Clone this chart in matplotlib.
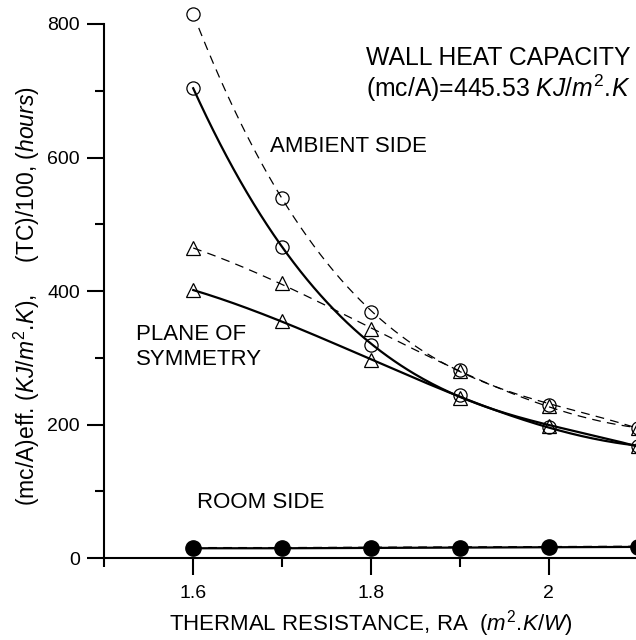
import matplotlib
matplotlib.use('Agg')
import matplotlib.pyplot as plt
import numpy as np

plt.rcParams['font.family'] = ['Liberation Sans', 'DejaVu Sans']
plt.rcParams['mathtext.fontset'] = 'custom'
plt.rcParams['mathtext.rm'] = 'Liberation Sans'
plt.rcParams['mathtext.it'] = 'Liberation Sans:italic'

# thermal resistance RA (m2.K/W)
ra = [1.6, 1.7, 1.8, 1.9, 2.0, 2.1]

# ambient side / plane of symmetry, two quantities each
circ_dashed = [815, 539, 369, 282, 230, 195]
circ_solid = [704, 466, 320, 245, 197, 168]
tri_dashed = [464, 412, 343, 280, 228, 195]
tri_solid = [401, 356, 297, 240, 198, 168]

# room side
room_solid = [15, 15, 15.5, 16, 16.5, 17]
room_dashed = [16, 16, 16.5, 17, 17.5, 18]

fig = plt.figure(figsize=(6.36, 6.40), dpi=100)
ax = fig.add_axes([0.164, 0.1277, 0.8387, 0.8348])

xs = np.linspace(ra[0], ra[-1], 200)


def trend(y, deg=3):
    c = np.polyfit(ra, y, deg)
    return np.polyval(c, xs)


ax.plot(xs, trend(circ_dashed), color='black', lw=0.9, ls=(0, (7, 5)))
ax.plot(xs, trend(tri_dashed), color='black', lw=0.9, ls=(0, (7, 5)))
ax.plot(xs, trend(circ_solid), color='black', lw=1.6)
ax.plot(xs, trend(tri_solid), color='black', lw=1.6)

mk = dict(ls='none', mfc='none', mec='black', mew=0.9, clip_on=False)
ax.plot(ra, circ_dashed, marker='o', ms=9.5, **mk)
ax.plot(ra, circ_solid, marker='o', ms=9.5, **mk)
ax.plot(ra, tri_dashed, marker='^', ms=9.5, **mk)
ax.plot(ra, tri_solid, marker='^', ms=9.5, **mk)

ax.plot(ra, room_dashed, color='black', lw=0.9, ls=(0, (7, 5)))
ax.plot(ra, room_solid, color='black', lw=1.6, marker='o', ms=11,
        mfc='black', mec='black', clip_on=False)

ax.set_xlim(1.5, 2.1)
ax.set_ylim(0, 800)
ax.set_xticks([1.6, 1.8, 2.0])
ax.set_xticklabels(['1.6', '1.8', '2'])
ax.set_xticks([1.5, 1.7, 1.9], minor=True)
ax.set_yticks([0, 200, 400, 600, 800])
ax.set_yticks([100, 300, 500, 700], minor=True)

for s in ['top', 'right']:
    ax.spines[s].set_visible(False)
for s in ['left', 'bottom']:
    ax.spines[s].set_linewidth(1.5)
ax.tick_params(which='major', length=12.5, width=1.5, labelsize=14, direction='out')
ax.tick_params(which='minor', length=6.5, width=1.5, direction='out')
ax.tick_params(axis='y', pad=5)
ax.tick_params(axis='x', pad=7)

ax.set_xlabel('THERMAL RESISTANCE, RA  $\\mathit{(m^{2}.\\!K/W)}$', fontsize=16)
ax.xaxis.set_label_coords(0.5, -0.093)
ax.set_ylabel('(mc/A)eff. $\\mathit{(KJ/m^{2}.\\!K)}$,     (TC)/100, $\\mathit{(hours)}$',
              fontsize=16.5)
ax.yaxis.set_label_coords(-0.116, 0.49)

ax.text(1.7947, 739, 'WALL HEAT CAPACITY', fontsize=17.8)
ax.text(1.7947, 691, '(mc/A)=445.53 $\\mathit{KJ/m^{2}.\\!K}$', fontsize=17.8)
ax.text(1.6869, 609, 'AMBIENT SIDE', fontsize=16)
ax.text(1.5352, 327, 'PLANE OF', fontsize=16)
ax.text(1.5352, 290, 'SYMMETRY', fontsize=16)
ax.text(1.6045, 76, 'ROOM SIDE', fontsize=16)

fig.savefig('out.png', dpi=100)
